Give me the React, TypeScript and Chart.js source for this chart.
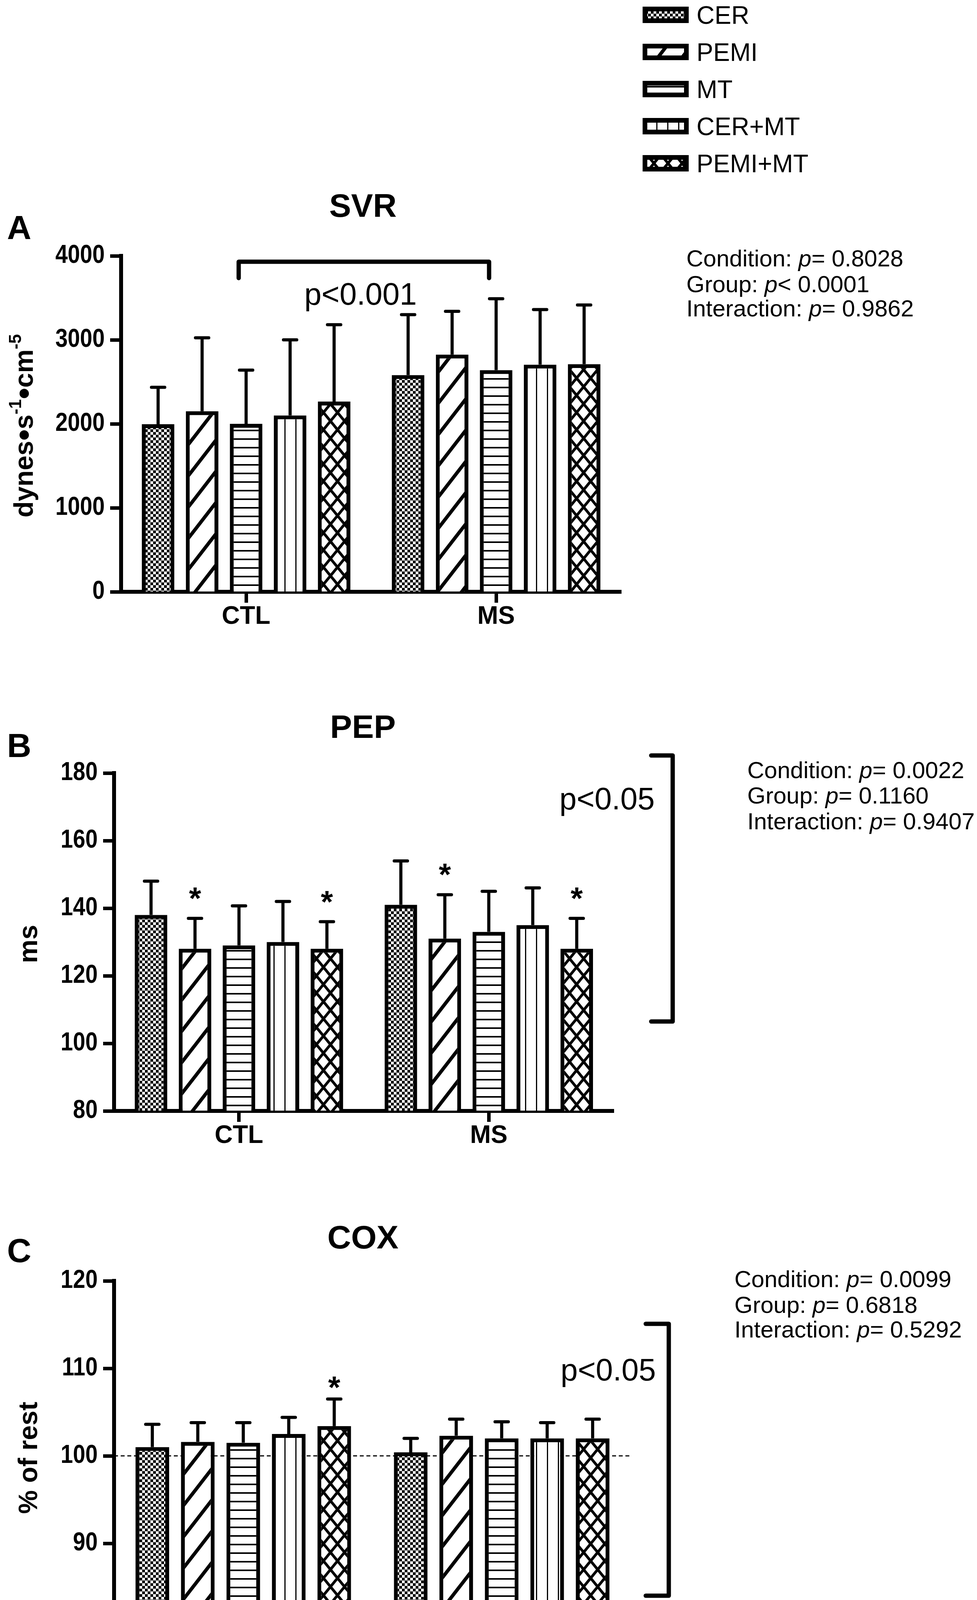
import { useEffect, useRef } from 'react';
import { Chart, registerables } from 'chart.js';

Chart.register(...registerables);

const PAGE_W = 2501;
const PAGE_H = 4271;
const SANS = "'Liberation Sans', Arial, Helvetica, sans-serif";

// categories
const groups = ['CTL', 'MS'];
const treatments = ['CER', 'PEMI', 'MT', 'CER+MT', 'PEMI+MT'];

// A - SVR, one value per treatment (CER, PEMI, MT, CER+MT, PEMI+MT)
const svrCtl = [1995, 2150, 2000, 2100, 2265];
const svrMs = [2580, 2825, 2640, 2705, 2710];
const svrCtlErr = [440, 875, 640, 900, 915];
const svrMsErr = [720, 515, 850, 655, 705];
const svrStats = [['Condition:', '= 0.8028'], ['Group:', '< 0.0001'], ['Interaction:', '= 0.9862']];

// B - PEP (ms)
const pepCtl = [138, 128, 129, 130, 128];
const pepMs = [141, 131, 133, 135, 128];
const pepCtlErr = [10, 9, 11.7, 12, 8];
const pepMsErr = [13, 13, 12, 11, 9];
const pepCtlStar = [false, true, false, false, true];
const pepMsStar = [false, true, false, false, true];
const pepStats = [['Condition:', '= 0.0022'], ['Group:', '= 0.1160'], ['Interaction:', '= 0.9407']];

// C - COX (% of rest)
const coxCtl = [101.0, 101.6, 101.5, 102.5, 103.4];
const coxMs = [100.4, 102.3, 102.0, 102.0, 102.0];
const coxCtlErr = [2.6, 2.2, 2.3, 1.9, 3.1];
const coxMsErr = [1.6, 1.9, 1.9, 1.8, 2.2];
const coxCtlStar = [false, false, false, false, true];
const coxMsStar = [false, false, false, false, false];
const coxStats = [['Condition:', '= 0.0099'], ['Group:', '= 0.6818'], ['Interaction:', '= 0.5292']];

const noStars = [false, false, false, false, false];

type Part = { text: string; size?: number; dy?: number };

type PanelDef = {
  key: string;
  letter: string;
  title: string;
  top: number;
  height: number;
  area: { left: number; top: number; right: number; bottom: number };
  min: number;
  max: number;
  step: number;
  ctl: number[];
  ms: number[];
  ctlErr: number[];
  msErr: number[];
  ctlStar: boolean[];
  msStar: boolean[];
  starGap: number;
  letterY: number;
  titleY: number;
  yTitle: Part[];
  yTitleX: number;
  stats: string[][];
  statsX: number;
  statsY: number[];
  refLine?: number;
  legend?: boolean;
  note: (chart: any, ctx: CanvasRenderingContext2D) => void;
};

const panels: PanelDef[] = [
  {
    key: 'A', letter: 'A', title: 'SVR',
    top: 0, height: 1640,
    area: { left: 310, top: 655, right: 1590, bottom: 1515 },
    min: 0, max: 4000, step: 1000,
    ctl: svrCtl, ms: svrMs, ctlErr: svrCtlErr, msErr: svrMsErr,
    ctlStar: noStars, msStar: noStars, starGap: 60,
    letterY: 612, titleY: 555,
    yTitle: [
      { text: 'dynes' }, { text: '•', size: 84, dy: 6 }, { text: 's' }, { text: '-1', size: 44, dy: -30 },
      { text: '•', size: 84, dy: 6 }, { text: 'cm' }, { text: '-5', size: 44, dy: -30 },
    ],
    yTitleX: 84,
    stats: svrStats, statsX: 1757, statsY: [682, 748, 810],
    legend: true,
    note: (chart, ctx) => {
      const x = chart.scales.x;
      const y = chart.scales.y;
      const x1 = x.getPixelForValue(0) - 19;
      const x2 = x.getPixelForValue(1) - 18;
      const yb = y.getPixelForValue(3930);
      const yl = y.getPixelForValue(3735);
      ctx.lineWidth = 11;
      ctx.lineJoin = 'round';
      ctx.lineCap = 'round';
      ctx.beginPath();
      ctx.moveTo(x1, yl);
      ctx.lineTo(x1, yb);
      ctx.lineTo(x2, yb);
      ctx.lineTo(x2, yl);
      ctx.stroke();
      ctx.font = `79px ${SANS}`;
      ctx.textAlign = 'center';
      ctx.fillText('p<0.001', 923, 780);
    },
  },
  {
    key: 'B', letter: 'B', title: 'PEP',
    top: 1640, height: 1300,
    area: { left: 292, top: 339, right: 1571, bottom: 1204 },
    min: 80, max: 180, step: 20,
    ctl: pepCtl, ms: pepMs, ctlErr: pepCtlErr, msErr: pepMsErr,
    ctlStar: pepCtlStar, msStar: pepMsStar, starGap: 70,
    letterY: 298, titleY: 249,
    yTitle: [{ text: 'ms' }],
    yTitleX: 95,
    stats: pepStats, statsX: 1913, statsY: [352, 417, 483],
    note: (_chart, ctx) => {
      ctx.lineWidth = 11;
      ctx.lineJoin = 'round';
      ctx.lineCap = 'round';
      ctx.beginPath();
      ctx.moveTo(1667, 294);
      ctx.lineTo(1722, 294);
      ctx.lineTo(1722, 975);
      ctx.lineTo(1667, 975);
      ctx.stroke();
      ctx.font = `79px ${SANS}`;
      ctx.textAlign = 'left';
      ctx.fillText('p<0.05', 1432, 432);
    },
  },
  {
    key: 'C', letter: 'C', title: 'COX',
    top: 2940, height: 1331,
    area: { left: 292, top: 339, right: 1615, bottom: 1235 },
    min: 80, max: 120, step: 10,
    ctl: coxCtl, ms: coxMs, ctlErr: coxCtlErr, msErr: coxMsErr,
    ctlStar: coxCtlStar, msStar: coxMsStar, starGap: 48,
    letterY: 291, titleY: 256,
    yTitle: [{ text: '% of rest' }],
    yTitleX: 95,
    stats: coxStats, statsX: 1880, statsY: [355, 421, 484],
    refLine: 100,
    note: (_chart, ctx) => {
      ctx.lineWidth = 11;
      ctx.lineJoin = 'round';
      ctx.lineCap = 'round';
      ctx.beginPath();
      ctx.moveTo(1653, 449);
      ctx.lineTo(1712, 449);
      ctx.lineTo(1712, 1145);
      ctx.lineTo(1653, 1145);
      ctx.stroke();
      ctx.font = `79px ${SANS}`;
      ctx.textAlign = 'left';
      ctx.fillText('p<0.05', 1435, 594);
    },
  },
];

// fill tiles: checks, "/" hatch, horizontal lines, vertical lines, cross hatch
function makeTile(kind: number): HTMLCanvasElement {
  const sizes = [[14, 14], [62, 80], [8, 22], [28, 8], [36, 44]];
  const [w, h] = sizes[kind];
  const c = document.createElement('canvas');
  c.width = w;
  c.height = h;
  const g = c.getContext('2d') as CanvasRenderingContext2D;
  g.fillStyle = '#fff';
  g.fillRect(0, 0, w, h);
  g.fillStyle = '#000';
  g.strokeStyle = '#000';
  if (kind === 0) {
    g.fillRect(0, 0, 7, 7);
    g.fillRect(7, 7, 7, 7);
  } else if (kind === 1) {
    g.lineWidth = 9;
    for (const k of [-1, 0, 1]) {
      g.beginPath();
      g.moveTo(-w, 2 * h + k * h);
      g.lineTo(2 * w, -h + k * h);
      g.stroke();
    }
  } else if (kind === 2) {
    g.fillRect(0, 0, w, 4);
  } else if (kind === 3) {
    g.fillRect(0, 0, 3, h);
  } else {
    g.lineWidth = 7;
    for (const k of [-1, 0, 1]) {
      g.beginPath();
      g.moveTo(-w, 2 * h + k * h);
      g.lineTo(2 * w, -h + k * h);
      g.stroke();
      g.beginPath();
      g.moveTo(-w, -h + k * h);
      g.lineTo(2 * w, 2 * h + k * h);
      g.stroke();
    }
  }
  return c;
}

function drawRotatedTitle(ctx: CanvasRenderingContext2D, x: number, cy: number, parts: Part[]) {
  ctx.save();
  ctx.translate(x, cy);
  ctx.rotate(-Math.PI / 2);
  ctx.textAlign = 'left';
  ctx.textBaseline = 'alphabetic';
  const fontOf = (p: Part) => `bold ${p.size ?? 68}px ${SANS}`;
  let total = 0;
  parts.forEach((p) => {
    ctx.font = fontOf(p);
    total += ctx.measureText(p.text).width;
  });
  let cur = -total / 2;
  parts.forEach((p) => {
    ctx.font = fontOf(p);
    ctx.fillText(p.text, cur, p.dy ?? 0);
    cur += ctx.measureText(p.text).width;
  });
  ctx.restore();
}

function makeDecor(p: PanelDef) {
  return {
    id: 'decor' + p.key,
    beforeDatasetsDraw(chart: any) {
      if (p.refLine === undefined) return;
      const ctx: CanvasRenderingContext2D = chart.ctx;
      const yy = chart.scales.y.getPixelForValue(p.refLine);
      ctx.save();
      ctx.strokeStyle = '#000';
      ctx.lineWidth = 3;
      ctx.setLineDash([10, 7]);
      ctx.beginPath();
      ctx.moveTo(chart.chartArea.left, yy);
      ctx.lineTo(chart.chartArea.right, yy);
      ctx.stroke();
      ctx.restore();
    },
    afterDatasetsDraw(chart: any) {
      const ctx: CanvasRenderingContext2D = chart.ctx;
      const yScale = chart.scales.y;
      ctx.save();
      ctx.strokeStyle = '#000';
      ctx.fillStyle = '#000';
      chart.data.datasets.forEach((ds: any, i: number) => {
        const meta = chart.getDatasetMeta(i);
        meta.data.forEach((bar: any, j: number) => {
          const v = ds.data[j] as number;
          const top = yScale.getPixelForValue(v);
          const end = yScale.getPixelForValue(v + ds.errors[j]);
          ctx.lineWidth = 8;
          ctx.lineCap = 'butt';
          ctx.beginPath();
          ctx.moveTo(bar.x, top);
          ctx.lineTo(bar.x, end);
          ctx.stroke();
          ctx.lineCap = 'round';
          ctx.beginPath();
          ctx.moveTo(bar.x - 17, end);
          ctx.lineTo(bar.x + 17, end);
          ctx.stroke();
          if (ds.stars[j]) {
            ctx.font = `bold 80px ${SANS}`;
            ctx.textAlign = 'center';
            ctx.textBaseline = 'alphabetic';
            ctx.fillText('*', bar.x, end - p.starGap + 46);
          }
        });
      });
      ctx.restore();
    },
    afterDraw(chart: any) {
      const ctx: CanvasRenderingContext2D = chart.ctx;
      const yScale = chart.scales.y;
      ctx.save();
      ctx.fillStyle = '#000';
      ctx.strokeStyle = '#000';

      // y tick labels, narrow bold digits as in the original figure
      yScale.ticks.forEach((t: any) => {
        const py = yScale.getPixelForValue(t.value);
        ctx.save();
        ctx.translate(chart.chartArea.left - 42, py);
        ctx.scale(0.86, 1);
        ctx.font = `bold 66px ${SANS}`;
        ctx.textAlign = 'right';
        ctx.textBaseline = 'middle';
        ctx.fillText(String(t.value), 0, 0);
        ctx.restore();
      });

      ctx.textBaseline = 'alphabetic';
      ctx.font = `bold 86px ${SANS}`;
      ctx.textAlign = 'left';
      ctx.fillText(p.letter, 18, p.letterY);

      ctx.font = `bold 84px ${SANS}`;
      ctx.textAlign = 'center';
      ctx.fillText(p.title, 929, p.titleY);

      drawRotatedTitle(ctx, p.yTitleX, (p.area.top + p.area.bottom) / 2 + 5, p.yTitle);

      ctx.textAlign = 'left';
      p.stats.forEach(([label, rest], k) => {
        let cx = p.statsX;
        const yy = p.statsY[k];
        ctx.font = `60px ${SANS}`;
        ctx.fillText(label + ' ', cx, yy);
        cx += ctx.measureText(label + ' ').width;
        ctx.font = `italic 60px ${SANS}`;
        ctx.fillText('p', cx, yy);
        cx += ctx.measureText('p').width;
        ctx.font = `60px ${SANS}`;
        ctx.fillText(rest, cx, yy);
      });

      ctx.save();
      p.note(chart, ctx);
      ctx.restore();

      if (p.legend) {
        chart.data.datasets.forEach((ds: any, i: number) => {
          const cy = 38 + i * 95;
          ctx.fillStyle = '#000';
          ctx.fillRect(1645, cy - 21, 118, 42);
          ctx.fillStyle = ds.backgroundColor;
          ctx.fillRect(1657, cy - 9, 94, 18);
          ctx.fillStyle = '#000';
          ctx.font = `64px ${SANS}`;
          ctx.textAlign = 'left';
          ctx.fillText(ds.label, 1783, cy + 23);
        });
      }
      ctx.restore();
    },
  };
}

function buildConfig(p: PanelDef, patterns: CanvasPattern[]) {
  return {
    type: 'bar' as const,
    data: {
      labels: groups,
      datasets: treatments.map((name, i) => ({
        label: name,
        data: [p.ctl[i], p.ms[i]],
        errors: [p.ctlErr[i], p.msErr[i]],
        stars: [p.ctlStar[i], p.msStar[i]],
        backgroundColor: patterns[i],
        borderColor: '#000',
        borderWidth: 10,
        borderSkipped: 'start',
        base: p.min,
        clip: 0,
        categoryPercentage: 0.88,
        barPercentage: 0.74,
      })),
    },
    options: {
      animation: false,
      responsive: false,
      devicePixelRatio: 1,
      events: [],
      layout: { padding: { top: p.area.top, right: PAGE_W - p.area.right, bottom: 0, left: 0 } },
      plugins: {
        legend: { display: false },
        tooltip: { enabled: false },
        title: { display: false },
      },
      scales: {
        x: {
          type: 'category',
          offset: true,
          grid: {
            display: true,
            offset: false,
            drawOnChartArea: false,
            drawTicks: true,
            tickLength: 28,
            tickWidth: 9,
            tickColor: '#000',
            color: '#000',
          },
          border: { display: true, color: '#000', width: 10 },
          ticks: {
            color: '#000',
            font: { family: SANS, size: 64, weight: 'bold' as const, lineHeight: 1 },
            padding: 4,
            maxRotation: 0,
            autoSkip: false,
          },
          afterFit: (s: any) => {
            s.height = p.height - p.area.bottom;
          },
        },
        y: {
          type: 'linear',
          min: p.min,
          max: p.max,
          grid: {
            display: true,
            drawOnChartArea: false,
            drawTicks: true,
            tickLength: 28,
            tickWidth: 9,
            tickColor: '#000',
            color: '#000',
          },
          border: { display: true, color: '#000', width: 10 },
          ticks: { stepSize: p.step, display: false },
          afterFit: (s: any) => {
            s.width = p.area.left;
          },
        },
      },
    },
    plugins: [makeDecor(p)],
  };
}

function PanelChart({ p }: { p: PanelDef }) {
  const canvasRef = useRef<HTMLCanvasElement | null>(null);

  useEffect(() => {
    const canvas = canvasRef.current;
    if (!canvas) return;
    const ctx = canvas.getContext('2d');
    if (!ctx) return;
    const patterns = treatments.map((_, i) => ctx.createPattern(makeTile(i), 'repeat') as CanvasPattern);
    const chart = new Chart(ctx, buildConfig(p, patterns) as any);
    return () => {
      chart.destroy();
    };
  }, [p]);

  return (
    <canvas
      ref={canvasRef}
      width={PAGE_W}
      height={p.height}
      style={{ position: 'absolute', left: 0, top: p.top, display: 'block' }}
    />
  );
}

export default function App() {
  return (
    <div
      style={{
        position: 'absolute',
        left: 0,
        top: 0,
        width: PAGE_W,
        height: PAGE_H,
        background: '#fff',
        overflow: 'hidden',
      }}
    >
      {panels.map((p) => (
        <PanelChart key={p.key} p={p} />
      ))}
    </div>
  );
}
